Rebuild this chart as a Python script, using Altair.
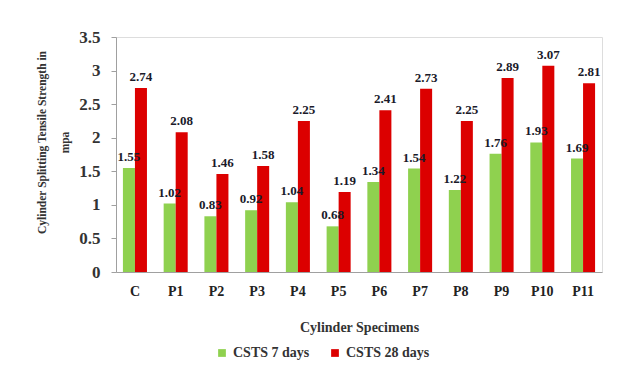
import altair as alt
import pandas as pd

categories = ["C", "P1", "P2", "P3", "P4", "P5", "P6", "P7", "P8", "P9", "P10", "P11"]
csts_7 = [1.55, 1.02, 0.83, 0.92, 1.04, 0.68, 1.34, 1.54, 1.22, 1.76, 1.93, 1.69]
csts_28 = [2.74, 2.08, 1.46, 1.58, 2.25, 1.19, 2.41, 2.73, 2.25, 2.89, 3.07, 2.81]
series_names = ["CSTS 7 days", "CSTS 28 days"]
series_colors = ["#8fd14f", "#dc0000"]
y_ticks = [0, 0.5, 1, 1.5, 2, 2.5, 3, 3.5]

rows = []
for i, c in enumerate(categories):
    rows.append({"cat": c, "series": series_names[0], "value": csts_7[i]})
    rows.append({"cat": c, "series": series_names[1], "value": csts_28[i]})
df = pd.DataFrame(rows)

FONT = "Times New Roman"

x_enc = alt.X("cat:N", sort=categories,
              scale=alt.Scale(paddingInner=0.41, paddingOuter=0.17),
              axis=alt.Axis(title="Cylinder Specimens", labelAngle=0, labelFont=FONT,
                            labelFontWeight="bold", labelFontSize=14, labelColor="#222",
                            labelPadding=12, ticks=False, domainColor="#a0a0a0",
                            titleFont=FONT, titleFontWeight="bold", titleFontSize=14,
                            titleColor="#333", titlePadding=22))
xoff = alt.XOffset("series:N", sort=series_names)
y_enc = alt.Y("value:Q",
              scale=alt.Scale(domain=[0, 3.5], nice=False),
              axis=alt.Axis(values=y_ticks, grid=False, format="~g", labelOverlap=False,
                            title=["Cylinder Splitting Tensile Strength in", "mpa"],
                            titleFont=FONT, titleFontWeight="bold", titleFontSize=11.5,
                            titleColor="#333", titleLineHeight=23, titlePadding=8,
                            titleY=105,
                            labelFont=FONT, labelFontWeight="bold", labelFontSize=17,
                            labelColor="#333", labelPadding=11, tickSize=5,
                            tickColor="#a0a0a0", domainColor="#a0a0a0"))

bars = alt.Chart(df).mark_bar().encode(
    x=x_enc,
    xOffset=xoff,
    y=y_enc,
    color=alt.Color("series:N", sort=series_names,
                    scale=alt.Scale(domain=series_names, range=series_colors),
                    legend=alt.Legend(title=None, orient="none", direction="horizontal",
                                      legendX=99, legendY=309,
                                      symbolType="square", symbolSize=60,
                                      labelFont=FONT, labelFontWeight="bold",
                                      labelFontSize=14, labelColor="#333",
                                      columnPadding=18)),
)

labels = alt.Chart(df).mark_text(baseline="bottom", dy=-4, font=FONT, fontWeight="bold",
                                 fontSize=13, color="#1a1a2a").encode(
    x=x_enc,
    xOffset=xoff,
    y=y_enc,
    text=alt.Text("value:Q", format=".2f"),
)

chart = alt.layer(bars, labels).properties(
    width=486, height=235,
    padding={"left": 28, "top": 20, "right": 10, "bottom": 5},
).configure_view(strokeWidth=0).configure(background="white")

chart.save("out.html", embed_options={"renderer": "svg", "actions": False})
